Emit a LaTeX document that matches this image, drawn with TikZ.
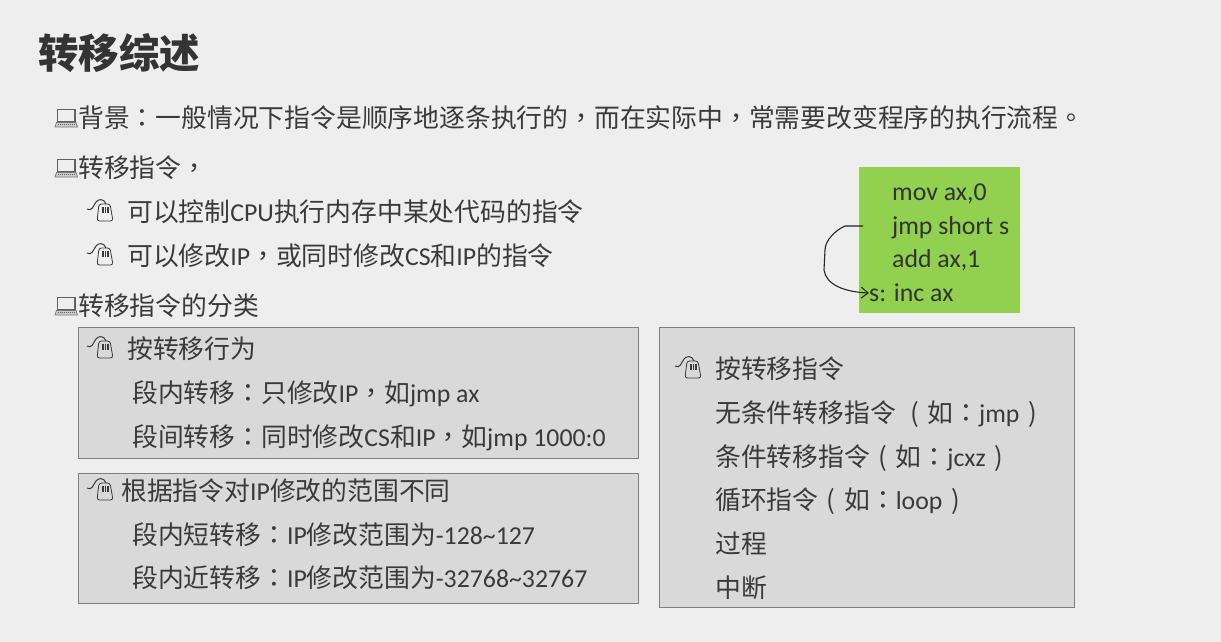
\documentclass[tikz,border=0pt]{standalone}
\usepackage{fontspec}
\setmainfont{Carlito}
\newfontfamily\cjk{Noto Sans CJK SC}
\newfontfamily\cjkp{Noto Sans CJK TC}
\usetikzlibrary{
  arrows.meta,
  positioning,
}
\definecolor{pagebg}{HTML}{EEEEEE}
\definecolor{boxbg}{HTML}{D9D9D9}
\definecolor{boxline}{HTML}{7F7F7F}
\definecolor{textgrey}{HTML}{3A3A3A}
\definecolor{codebg}{HTML}{92D050}
\newcommand{\cn}[1]{{\cjk #1}}
\newcommand{\fwcolon}{{\cjkp\char"FF1A\relax}}
\newcommand{\fwcomma}{{\cjkp\char"FF0C\relax}}
\newcommand{\fwopen}{\makebox[25.8pt]{\cjk (}}
\newcommand{\fwclose}{\makebox[25.8pt]{\cjk )}}
\newcommand{\fwstop}{{\cjkp\char"3002\relax}}
\tikzset{
  >={Straight Barb[length=7pt,width=11pt]},
  line/.style={anchor=west,inner sep=0,text=textgrey,font=\fontsize{25.8}{30}\selectfont,text height=22pt,text depth=3pt},
  codeline/.style={anchor=west,inner sep=0,text=black!80,font=\fontsize{25.8}{30}\selectfont,text height=20pt,text depth=4pt},
  panel/.style={draw=boxline,fill=boxbg,line width=0.8pt},
  laptop/.pic={
    \draw[textgrey!80,line width=1.6pt] (1.5,0.5) rectangle (19,12.5);
    \draw[textgrey!70,line width=0.7pt,fill=textgrey!25] (0.5,13.5) -- (20,13.5) -- (21.5,18) -- (-1,18) -- cycle;
    \draw[textgrey!80,line width=1.2pt,dash pattern=on 1pt off 1pt] (1.5,15.8) -- (19.5,15.8);
  },
  mouse/.pic={
    \draw[textgrey,line width=0.8pt,rounded corners=2.5pt] (12,-3) -- (23,-3) -- (26,14) -- (10,14) -- cycle;
    \foreach \barx in {15,17.6,20.2}
      \fill[textgrey] (\barx,0) rectangle ++(1.6,6);
    \draw[textgrey,line width=1pt] (0,2) .. controls (5,5) and (6,-1) .. (9,-5) .. controls (11,-8) and (17,-9) .. (19,-3);
  },
}

\begin{document}
\begin{tikzpicture}[x=1pt,y=-1pt]

  \useasboundingbox[fill=pagebg] (0,0) rectangle (1221,642);

  % title
  \node[anchor=west,inner sep=0,text=textgrey!90!black,font=\fontsize{40.5}{44}\selectfont\bfseries] (title) at (38,53) {\cn{转移综述}};

  % first part
  \pic at (56,109) {laptop};
  \node[line] (background) at (78,118) {\cn{背景}\fwcolon\cn{一般情况下指令是顺序地逐条执行的}\fwcomma\cn{而在实际中}\fwcomma\cn{常需要改变程序的执行流程}\fwstop};
  \pic at (56,159) {laptop};
  \node[line] (transfer) at (78,168) {\cn{转移指令}\fwcomma};
  \pic at (87,207) {mouse};
  \node[line] (controlcpu) at (127,212) {\cn{可以控制}CPU\cn{执行内存中某处代码的指令}};
  \pic at (87,251) {mouse};
  \node[line] (changeip) at (127,256) {\cn{可以修改}IP\fwcomma\cn{或同时修改}CS\cn{和}IP\cn{的指令}};
  \pic at (56,297) {laptop};
  \node[line] (classes) at (78,306) {\cn{转移指令的分类}};

  % left panels
  \node[panel,anchor=north west,minimum width=560,minimum height=131] (behaviour) at (78,327) {};
  \node[panel,anchor=north west,minimum width=560,minimum height=130] (range) at (78,473) {};
  \pic at (87,344) {mouse};
  \node[line] (bytype) at (127,349) {\cn{按转移行为}};
  \node[line] (insegment) at (132,393) {\cn{段内转移}\fwcolon\cn{只修改}IP\fwcomma\cn{如}jmp ax};
  \node[line] (intersegment) at (132,437) {\cn{段间转移}\fwcolon\cn{同时修改}CS\cn{和}IP\fwcomma\cn{如}jmp 1000:0};
  \pic at (87,486) {mouse};
  \node[line] (byrange) at (121,491) {\cn{根据指令对}IP\cn{修改的范围不同}};
  \node[line] (shortjump) at (132,535) {\cn{段内短转移}\fwcolon IP\cn{修改范围为}-128\textasciitilde127};
  \node[line] (nearjump) at (132,578) {\cn{段内近转移}\fwcolon IP\cn{修改范围为}-32768\textasciitilde32767};

  % right panel
  \node[panel,anchor=north west,minimum width=415,minimum height=280] (kinds) at (659,327) {};
  \pic at (675,364) {mouse};
  \node[line] (byinstr) at (715,369) {\cn{按转移指令}};
  \node[line] (uncond) at (715,413) {\cn{无条件转移指令}\kern6pt\fwopen\cn{如}\fwcolon jmp\fwclose};
  \node[line] (cond) at (715,457) {\cn{条件转移指令}\fwopen\cn{如}\fwcolon jcxz\fwclose};
  \node[line] (loopinstr) at (715,500) {\cn{循环指令}\fwopen\cn{如}\fwcolon loop\fwclose};
  \node[line] (procedure) at (715,544) {\cn{过程}};
  \node[line] (interrupt) at (715,588) {\cn{中断}};

  % code box
  \node[fill=codebg,anchor=north west,minimum width=161,minimum height=146,inner sep=0] (code) at (859,167) {};
  \node[codeline] (movline) at (892,192) {mov ax,0};
  \node[codeline] (jmpline) at (892,226) {jmp short s};
  \node[codeline] (addline) at (892,259) {add ax,1};
  \node[codeline] (incline) at (869,293) {s: inc ax};
  \coordinate (jumpfrom) at (863,226);

  \draw[->,black!85,line width=1.1pt] (jumpfrom) -- (845,226) .. controls (836,230) and (825,240) .. (825,250) -- (824,270) .. controls (826,285) and (845,292) .. (incline.west);

\end{tikzpicture}
\end{document}
